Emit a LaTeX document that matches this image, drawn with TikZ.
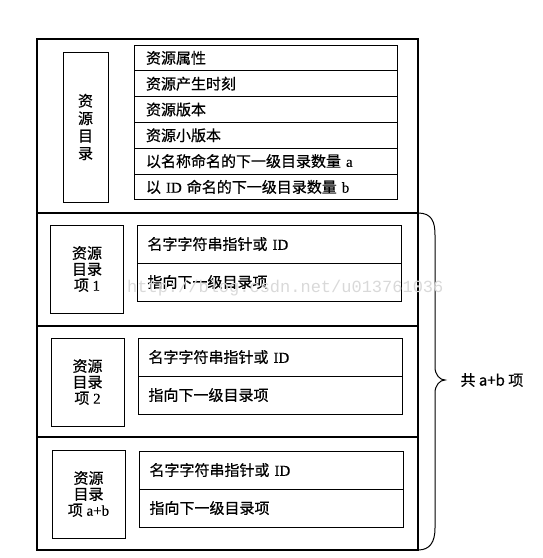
\documentclass[tikz,border=0pt]{standalone}
\usepackage{fontspec}
\setmainfont{Liberation Serif}[FakeBold=0.3]
\newfontfamily\cjk{Noto Sans CJK SC}[FakeBold=0.6]
\newfontfamily\wmfont{Liberation Mono}
\begin{document}
\begin{tikzpicture}[x=1pt,y=-1pt,
  frame/.style={draw, line width=1.2pt},
  cell/.style={draw, line width=1pt, inner sep=0pt, outer sep=0pt, anchor=north west},
  rowcell/.style={cell, minimum width=#1, text width=#1-24pt, inner xsep=12pt, align=left,
     font=\fontsize{15}{16}\selectfont},
  rowhead/.style={rowcell=263pt, minimum height=25.8pt},
  rowent/.style={rowcell=264pt, minimum height=38pt, inner xsep=10pt, text width=244pt},
  sidebox/.style={cell, minimum width=73pt, minimum height=88pt, align=center,
     font=\fontsize{15}{16}\selectfont},
  lbl/.style={font=\fontsize{15}{16}\selectfont}
]
\useasboundingbox (0,0) rectangle (543,558);
% outer frame and dividers
\draw[frame] (37,39) rectangle (418,550);
\draw[frame] (37,213) -- (418,213);
\draw[frame] (37,326) -- (418,326);
\draw[frame] (37,437) -- (418,437);
% header
\node[cell, minimum width=45pt, minimum height=150pt, align=center,
      font=\fontsize{15}{17.5}\selectfont] (hd) at (63,52) {{\cjk 资}\\{\cjk 源}\\{\cjk 目}\\{\cjk 录}};
\node[rowhead] (h1) at (134,45) {\cjk 资源属性};
\node[rowhead] (h2) at (134,70.8) {\cjk 资源产生时刻};
\node[rowhead] (h3) at (134,96.6) {\cjk 资源版本};
\node[rowhead] (h4) at (134,122.4) {\cjk 资源小版本};
\node[rowhead] (h5) at (134,148.2) {{\cjk 以名称命名的下一级目录数量} a};
\node[rowhead] (h6) at (134,174) {{\cjk 以} ID {\cjk 命名的下一级目录数量} b};
% entry 1
\node[sidebox] (e1) at (50.5,225) {{\cjk 资源}\\{\cjk 目录}\\{\cjk 项} 1};
\node[rowent] (e1a) at (137.5,225) {{\cjk 名字字符串指针或} ID};
\node[rowent] (e1b) at (137.5,263) {\cjk 指向下一级目录项};
% entry 2
\node[sidebox] (e2) at (51,338) {{\cjk 资源}\\{\cjk 目录}\\{\cjk 项} 2};
\node[rowent] (e2a) at (138.5,338) {{\cjk 名字字符串指针或} ID};
\node[rowent] (e2b) at (138.5,376) {\cjk 指向下一级目录项};
% entry a+b
\node[sidebox] (e3) at (52,450) {{\cjk 资源}\\{\cjk 目录}\\{\cjk 项} a+b};
\node[rowent] (e3a) at (139.5,451) {{\cjk 名字字符串指针或} ID};
\node[rowent] (e3b) at (139.5,489) {\cjk 指向下一级目录项};
% brace
\coordinate (bt) at (418,213);
\coordinate (bb) at (418,550);
\coordinate (tip) at (445,380);
\draw[line width=1pt] (bt) .. controls (432,213) and (435,222) .. (435,235) -- (435,367)
   .. controls (435,375) and (440,380) .. (tip)
   .. controls (440,380) and (435,385) .. (435,393) -- (435,528)
   .. controls (435,542) and (430,550) .. (bb);
\node[lbl, anchor=west] (tot) at (457,380) {\cjk 共 a+b 项};
% watermark
\node[font=\wmfont\fontsize{17}{17}\selectfont, text=gray!30, anchor=west, inner sep=0pt] (wm) at (127,288) {http://blog.csdn.net/u013761036};
\end{tikzpicture}
\end{document}
